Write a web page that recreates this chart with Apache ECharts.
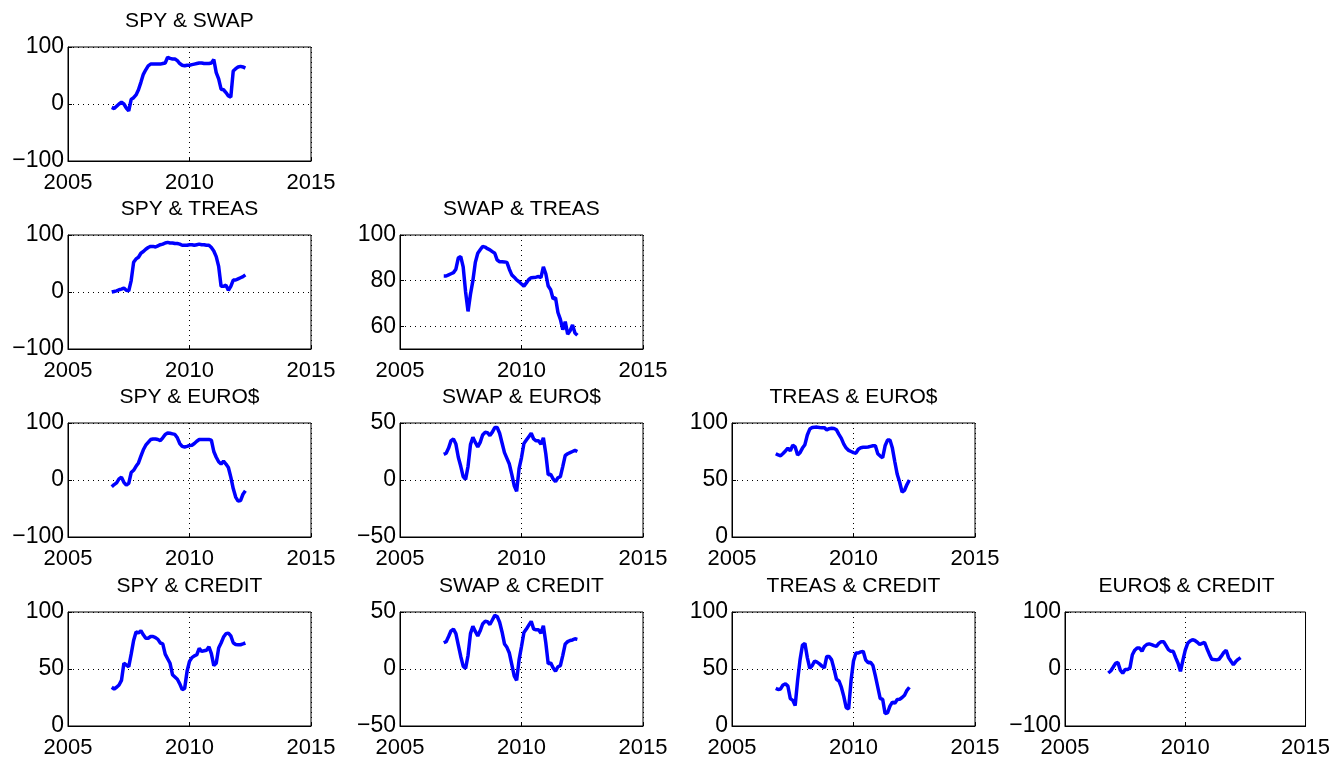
<!DOCTYPE html>
<html>
<head>
<meta charset="utf-8">
<title>pairwise correlations</title>
<script src="https://cdn.jsdelivr.net/npm/echarts@6/dist/echarts.min.js"></script>
<style>
    html, body { margin: 0; padding: 0; background: #fff; }
    #main { width: 1333px; height: 760px; }
</style>
</head>
<body>
<div id="main"></div>
<script>
// sample dates (decimal years), shared by every panel
var years = [2006.8, 2006.9, 2007.0, 2007.1, 2007.2, 2007.3, 2007.4, 2007.5, 2007.6, 2007.7,
             2007.8, 2007.9, 2008.0, 2008.1, 2008.2, 2008.3, 2008.4, 2008.5, 2008.6, 2008.7,
             2008.8, 2008.9, 2009.0, 2009.1, 2009.2, 2009.3, 2009.4, 2009.5, 2009.6, 2009.7,
             2009.8, 2009.9, 2010.0, 2010.1, 2010.2, 2010.3, 2010.4, 2010.5, 2010.6, 2010.7,
             2010.8, 2010.9, 2011.0, 2011.1, 2011.2, 2011.3, 2011.4, 2011.5, 2011.6, 2011.7,
             2011.8, 2011.9, 2012.0, 2012.1, 2012.2, 2012.3];

var spySwap = [-6, -8, -4, 0, 3, 0, -7, -12, 8, 11, 16, 25, 38, 52, 60, 67, 70, 70, 70, 70,
               70, 71, 72, 82, 80, 79, 79, 76, 71, 68, 67, 68, 68, 69, 70, 71, 72, 72, 71, 71,
               71, 72, 78, 55, 44, 26, 25, 20, 14, 12, 58, 62, 65, 66, 65, 63];
var spyTreas = [0, 1, 2, 4, 5, 7, 3, 2, 20, 52, 58, 61, 68, 71, 75, 78, 80, 80, 79, 81,
                83, 84, 86, 87, 86, 86, 85, 85, 84, 82, 82, 82, 83, 83, 82, 83, 84, 83, 83, 82,
                82, 78, 72, 62, 45, 10, 10, 12, 3, 10, 21, 21, 23, 25, 27, 30];
var swapTreas = [82, 82, 82.5, 83, 83.5, 85, 90, 90.5, 86, 75, 66.5, 74, 80, 88, 92, 93.5, 95, 94.7, 94, 93.5,
                 92.7, 92, 89, 88.3, 88.3, 88.2, 88, 85, 82.5, 81.5, 80.3, 79.5, 78.5, 77.6, 79, 80.5, 81.3, 81.4, 81.5, 81.8,
                 81.3, 86, 83, 77.6, 76, 72, 72.5, 66, 63, 58.5, 62, 56.5, 58, 60.5, 57, 56];
var spyEuro = [-12, -8, -5, 2, 5, -4, -9, -6, 13, 17, 24, 30, 42, 53, 61, 66, 71, 72, 72, 71,
               69, 74, 80, 82.6, 82, 81, 80, 74, 64, 59, 58, 59, 60.5, 61, 64, 68, 71, 71, 71, 71,
               71, 70, 50, 40, 32, 28, 33, 28, 22, 5, -15, -30, -37, -36, -25, -19];
var swapEuro = [22.5, 23.5, 28, 34.5, 35.9, 31.5, 20, 12, 3, 0.5, 12, 31, 37.5, 33, 29, 33, 39.5, 41.8, 41.5, 39,
                42, 46, 46, 41, 32.5, 24, 19, 14, 5, -5, -10, 10, 19.7, 32, 35, 38, 41, 36, 34.4, 34.4,
                31.5, 37, 23, 4.5, 5, 1, -1.5, 2, 3, 12, 21.5, 23, 24, 25, 26, 25];
var treasEuro = [73, 72, 71.3, 73.3, 75.5, 78, 75.5, 80.5, 79, 72, 74, 78, 81, 89.5, 94.7, 96, 96.2, 96.4, 96, 95.9,
                 95.9, 94, 95, 95.4, 95.2, 94, 90, 86.5, 81.5, 78, 76, 75, 74, 73.5, 77, 78.3, 78.7, 78.7, 79, 79.5,
                 80, 80, 73, 71, 69.5, 80, 85, 85.2, 78, 66, 55, 48, 39.5, 41, 46, 50];
var spyCredit = [34, 32.5, 34, 36, 40, 55, 53.5, 52, 63, 75, 82.5, 81.6, 83.6, 80, 77, 77, 78.5, 78.5, 77.5, 76,
                 72.8, 72, 63, 59, 55, 45, 43, 41, 37, 31.9, 33, 48, 56.7, 60, 61.5, 62.5, 68, 65.5, 66, 66.5,
                 69.5, 63.5, 53, 55, 68.5, 72.8, 78, 81, 81.5, 79, 73, 71.5, 71.3, 71.3, 72, 72.8];
var swapCredit = [23, 24, 28.5, 33.5, 35, 31, 21, 11, 2.5, 0.5, 12, 31, 37.5, 33, 29, 33.5, 39.5, 41.8, 41.5, 39,
                  43, 47, 46, 41, 32.5, 22, 19, 14, 4, -6, -10, 8, 19.7, 32, 35, 38.5, 41.8, 35, 34.4, 34.4,
                  31.5, 38, 23, 4.5, 5.5, 1, -2, 2, 3, 12, 22, 24, 25, 25.5, 26.5, 26];
var treasCredit = [33, 32, 32.5, 36, 37, 35, 24, 22.5, 18, 40, 58, 71, 72.5, 60, 50.5, 53, 57, 56, 54.5, 52.5,
                   51, 61, 61, 58, 50, 41, 39.5, 34, 26, 16, 15, 40, 57, 64, 64, 65, 65.5, 58, 55.5, 56,
                   53, 44, 34, 24, 23.5, 11, 11.5, 17.5, 21, 20, 23.3, 23.5, 25, 27, 31.3, 34];
var euroCredit = [-7, -3.5, 3, 9.7, 11.5, -2, -7.5, -1, -1, 2, 25, 33, 37, 37, 31, 39.5, 43, 44, 42.7, 41,
                  39.8, 45, 48, 48, 41, 34, 31, 31, 20, 10, -4, 15, 33, 45, 49, 51.5, 50, 47, 43, 45,
                  46.8, 36, 26, 17.2, 16.5, 16, 17, 22.5, 29, 33, 20, 13.5, 7.6, 13, 17, 20];

// tick labels
var xTicks = [2005, 2010, 2015];
var yWide = [-100, 0, 100];
var yHalf = [-50, 0, 50];
var yPos = [0, 50, 100];
var yTreas = [60, 80, 100];

// lower triangle of pairs
var panels = [
    {title: 'SPY & SWAP', row: 0, col: 0, data: spySwap, ticks: yWide},
    {title: 'SPY & TREAS', row: 1, col: 0, data: spyTreas, ticks: yWide},
    {title: 'SWAP & TREAS', row: 1, col: 1, data: swapTreas, ticks: yTreas, min: 50},
    {title: 'SPY & EURO$', row: 2, col: 0, data: spyEuro, ticks: yWide},
    {title: 'SWAP & EURO$', row: 2, col: 1, data: swapEuro, ticks: yHalf},
    {title: 'TREAS & EURO$', row: 2, col: 2, data: treasEuro, ticks: yPos},
    {title: 'SPY & CREDIT', row: 3, col: 0, data: spyCredit, ticks: yPos},
    {title: 'SWAP & CREDIT', row: 3, col: 1, data: swapCredit, ticks: yHalf},
    {title: 'TREAS & CREDIT', row: 3, col: 2, data: treasCredit, ticks: yPos},
    {title: 'EURO$ & CREDIT', row: 3, col: 3, data: euroCredit, ticks: yWide}
];

var colLeft = [68, 400, 732, 1065];
var rowTop = [47, 235, 423, 612];
var boxW = 243, boxH = 114;
var font = "'Liberation Sans', Arial, Helvetica, sans-serif";

function minusFmt(v) {
    return v < 0 ? '\u2212' + Math.abs(v) : String(v);
}

var myChart = echarts.init(document.getElementById('main'));
var option = {
    animation: false,
    backgroundColor: '#fff',
    title: [], grid: [], xAxis: [], yAxis: [], series: []
};

panels.forEach(function (p, i) {
    var left = colLeft[p.col], top = rowTop[p.row];
    option.title.push({
        text: p.title,
        left: left + boxW / 2,
        top: top - 36,
        padding: 0,
        textAlign: 'center',
        textStyle: {fontFamily: font, fontSize: 21, fontWeight: 'normal', color: '#000'}
    });
    option.grid.push({
        left: left, top: top, width: boxW, height: boxH,
        show: true, borderColor: '#000', borderWidth: 1, backgroundColor: 'transparent'
    });
    option.xAxis.push({
        type: 'value', gridIndex: i,
        min: xTicks[0], max: xTicks[xTicks.length - 1], interval: 5,
        axisLine: {show: true, onZero: false, lineStyle: {color: '#000', width: 1}},
        axisTick: {show: true, inside: true, length: 4, lineStyle: {color: '#000'}},
        axisLabel: {color: '#000', fontFamily: font, fontSize: 22, margin: 11,
                    formatter: function (v) { return String(v); },
                    showMinLabel: true, showMaxLabel: true},
        splitLine: {show: true, lineStyle: {color: '#000', type: [1, 4], width: 1}}
    });
    var lo = p.min !== undefined ? p.min : p.ticks[0];
    var hi = p.ticks[p.ticks.length - 1];
    var y = {
        type: 'value', gridIndex: i, min: lo, max: hi,
        axisLine: {show: true, onZero: false, lineStyle: {color: '#000', width: 1}},
        axisTick: {show: true, inside: true, length: 4, lineStyle: {color: '#000'}},
        axisLabel: {color: '#000', fontFamily: font, fontSize: 23, margin: 4, formatter: minusFmt,
                    showMinLabel: true, showMaxLabel: true},
        splitLine: {show: true, lineStyle: {color: '#000', type: [1, 4], width: 1}}
    };
    if (p.min !== undefined) {
        // ticks not starting at min
        y.axisLabel.customValues = p.ticks;
        y.axisTick.customValues = p.ticks;
    } else {
        y.interval = p.ticks[1] - p.ticks[0];
    }
    option.yAxis.push(y);
    option.series.push({
        name: p.title, type: 'line', xAxisIndex: i, yAxisIndex: i,
        showSymbol: false, symbol: 'none',
        lineStyle: {color: '#0000ff', width: 3.5},
        data: years.map(function (t, k) { return [t, p.data[k]]; })
    });
});

myChart.setOption(option);
</script>
</body>
</html>
